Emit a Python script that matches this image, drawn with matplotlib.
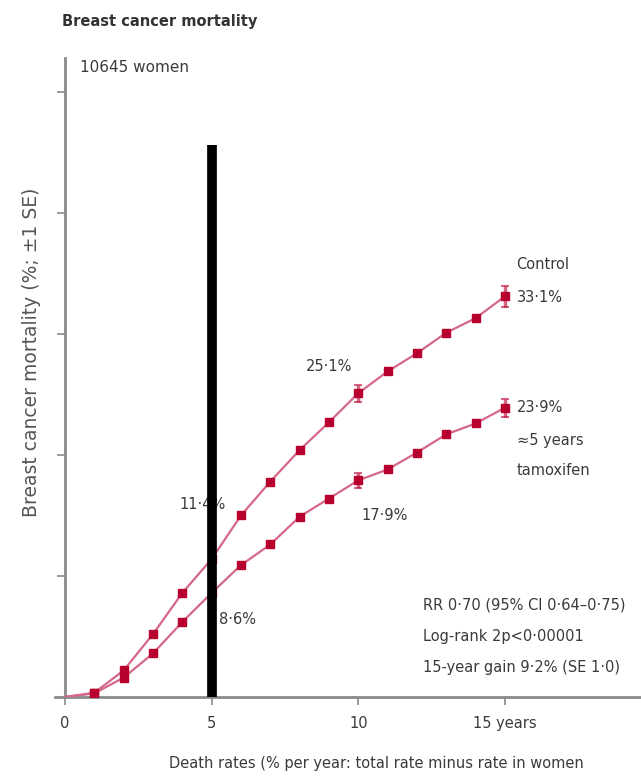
import matplotlib.pyplot as plt

plt.rcParams['font.family'] = ['Liberation Sans Narrow', 'DejaVu Sans']

# Breast cancer mortality by year since entry (%)
years = list(range(16))
control = [0, 0.35, 2.2, 5.2, 8.6, 11.4, 15.0, 17.8, 20.4, 22.7, 25.1, 26.9, 28.4, 30.1, 31.3, 33.1]
tamoxifen = [0, 0.3, 1.6, 3.6, 6.2, 8.6, 10.9, 12.6, 14.9, 16.4, 17.9, 18.8, 20.2, 21.7, 22.6, 23.9]

# +/- 1 SE shown at 5, 10 and 15 years
se_years = [5, 10, 15]
control_se = [0.5, 0.7, 0.9]
tamoxifen_se = [0.4, 0.6, 0.75]

xticks = [0, 5, 10, 15]
xtick_labels = ['0', '5', '10', '15 years']
yticks = [10, 20, 30, 40, 50]

line_col = '#d4678a'
mark_col = '#b8002e'
axis_col = '#8a8a8a'
text_col = '#3a3a3a'

fig = plt.figure(figsize=(6.41, 7.79), dpi=100)
ax = fig.add_axes([0.0855, 0.1053, 0.9125, 0.8202])

for vals, se in [(control, control_se), (tamoxifen, tamoxifen_se)]:
    ax.plot(years, vals, color=line_col, lw=1.6, zorder=3)
    ax.plot(years[1:], vals[1:], ls='none', marker='s', ms=5.5,
            color=mark_col, zorder=4)
    ax.errorbar(se_years, [vals[y] for y in se_years], yerr=se, fmt='none',
                ecolor=mark_col, elinewidth=2.5, capsize=3, capthick=1.5,
                alpha=0.6, zorder=4)

# 5-year mark
ax.plot([5, 5], [0, 45.6], color='black', lw=7, solid_capstyle='butt', zorder=5)

ax.set_xlim(-0.35, 19.6)
ax.set_ylim(0, 52.8)
ax.spines['left'].set_position(('data', 0))
for s in ['top', 'right']:
    ax.spines[s].set_visible(False)
for s in ['left', 'bottom']:
    ax.spines[s].set_color(axis_col)
    ax.spines[s].set_linewidth(2)

ax.set_xticks(xticks)
ax.set_xticklabels(xtick_labels, fontsize=10.5, color=text_col)
ax.set_yticks(yticks)
ax.set_yticklabels([])
ax.tick_params(axis='both', color=axis_col, width=1.2, length=6)
ax.tick_params(axis='x', pad=8)

ax.set_xlabel('Death rates (% per year: total rate minus rate in women',
              fontsize=10.5, color=text_col, labelpad=18, x=0.55)
ax.set_ylabel('Breast cancer mortality (%; \u00b11 SE)', fontsize=13.5,
              color='#555555', labelpad=8, y=0.54)

fig.text(0.097, 0.972, 'Breast cancer mortality', fontsize=10.5, fontweight='bold',
         color='#333333', va='center')
ax.text(0.5, 52.0, '10645 women', fontsize=11, color=text_col, va='center')

tk = dict(fontsize=10.5, color=text_col, va='center')
ax.text(15.4, 35.7, 'Control', **tk)
ax.text(15.4, 33.0, '33\u00b71%', **tk)
ax.text(15.4, 23.9, '23\u00b79%', **tk)
ax.text(15.4, 21.2, '\u22485 years', **tk)
ax.text(15.4, 18.7, 'tamoxifen', **tk)
ax.text(9.0, 27.3, '25\u00b71%', ha='center', **tk)
ax.text(10.9, 15.0, '17\u00b79%', ha='center', **tk)
ax.text(4.7, 15.9, '11\u00b74%', ha='center', **tk)
ax.text(5.25, 6.4, '8\u00b76%', **tk)

ax.text(12.2, 7.6, 'RR 0\u00b770 (95% CI 0\u00b764\u20130\u00b775)', **tk)
ax.text(12.2, 5.0, 'Log-rank 2p<0\u00b700001', **tk)
ax.text(12.2, 2.4, '15-year gain 9\u00b72% (SE 1\u00b70)', **tk)

fig.savefig('out.png', dpi=100)
